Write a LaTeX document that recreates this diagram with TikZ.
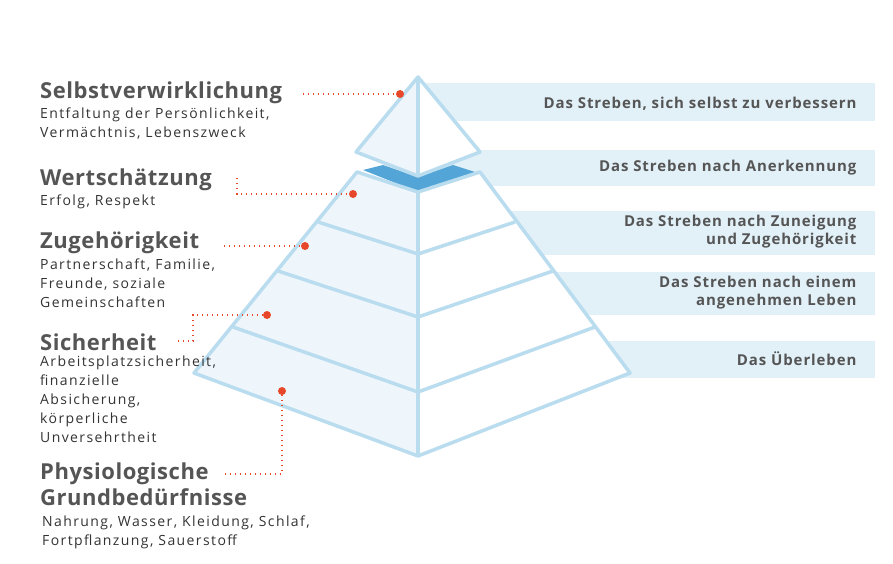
\documentclass[tikz,border=0pt]{standalone}
\usepackage{fontspec}
\setmainfont{Open Sans}
\newfontfamily\subfont[LetterSpace=10]{Open Sans}
\newfontfamily\bandfont[LetterSpace=6]{Open Sans}
\newfontfamily\ttlfont[LetterSpace=2.5]{Open Sans}
\begin{document}
\begin{tikzpicture}[x=1pt,y=-1pt,
  edge/.style={draw=pyr,line width=3.5pt,line join=round},
  band/.style={fill=bandc,draw=none},
  bandtxt/.style={anchor=east,align=right,font=\bandfont\fontsize{15}{18}\selectfont\bfseries,text=txt},
  ttl/.style={anchor=west,font=\ttlfont\fontsize{22}{26}\selectfont\bfseries,text=txt,inner sep=0},
  sub/.style={anchor=north west,align=left,font=\subfont\fontsize{14}{19}\selectfont,text=txt2,inner sep=0},
  dotl/.style={draw=redc,line width=1.4pt,dash pattern=on 1.4pt off 3.6pt},
  dot/.style={circle,fill=redc,inner sep=0,minimum size=8pt}]
\definecolor{pyr}{HTML}{B9DCEF}
\definecolor{bandc}{HTML}{E2F0F8}
\definecolor{lightf}{HTML}{EEF6FB}
\definecolor{dark}{HTML}{52A5D6}
\definecolor{txt}{HTML}{555555}
\definecolor{txt2}{HTML}{333333}
\definecolor{redc}{HTML}{E8482A}
\useasboundingbox (0,0) rectangle (893,564);
% bands
\fill[band] (418,83) rectangle (875,121);
\fill[band] (418,150) rectangle (875,186);
\fill[band] (418,211) rectangle (875,255);
\fill[band] (418,272) rectangle (875,315);
\fill[band] (418,341) rectangle (875,378);
\node[bandtxt] (b1) at (860,104) {Das Streben, sich selbst zu verbessern};
\node[bandtxt] (b2) at (860,168) {Das Streben nach Anerkennung};
\node[bandtxt] (b3) at (860,232) {Das Streben nach Zuneigung\\und Zugehörigkeit};
\node[bandtxt] (b4) at (860,293) {Das Streben nach einem\\angenehmen Leben};
\node[bandtxt] (b5) at (860,359) {Das Überleben};
% lower pyramid
\fill[lightf] (357,172) -- (418,192) -- (418,456) -- (194,373) -- cycle;
\fill[white] (480,172) -- (418,192) -- (418,456) -- (630,373) -- cycle;
\fill[dark] (363,170) -- (383,165) -- (418,177) -- (453,165) -- (475,172) -- (418,192) -- cycle;
\draw[edge] (357,172) -- (418,192) -- (480,172) -- (630,373) -- (418,456) -- (194,373) -- cycle;
\draw[edge] (418,192) -- (418,456);
\draw[edge] (318,222) -- (418,254) -- (515,222);
\draw[edge] (278,271) -- (418,317) -- (553,271);
\draw[edge] (233,327) -- (418,392) -- (595,327);
% top piece
\fill[lightf] (418,77) -- (356,152) -- (418,176) -- cycle;
\fill[white] (418,77) -- (480,152) -- (418,176) -- cycle;
\draw[edge] (418,77) -- (356,152) -- (418,176) -- (480,152) -- cycle;
\draw[edge] (418,77) -- (418,176);
% left texts
\node[ttl] (t1) at (40,93) {Selbstverwirklichung};
\node[sub] (s1) at (40,108) {Entfaltung der Persönlichkeit,\\Vermächtnis, Lebenszweck};
\node[ttl] (t2) at (40,180) {Wertschätzung};
\node[sub] (s2) at (40,195) {Erfolg, Respekt};
\node[ttl] (t3) at (40,243) {Zugehörigkeit};
\node[sub] (s3) at (40,259) {Partnerschaft, Familie,\\Freunde, soziale\\Gemeinschaften};
\node[ttl] (t4) at (40,342) {Sicherheit};
\node[sub] (s4) at (40,356) {Arbeitsplatzsicherheit,\\finanzielle\\Absicherung,\\körperliche\\Unversehrtheit};
\node[ttl,anchor=north west,align=left] (t5) at (40,463) {Physiologische\\Grundbedürfnisse};
\node[sub] (s5) at (42,516) {Nahrung, Wasser, Kleidung, Schlaf,\\Fortpflanzung, Sauerstoff};
% dots and leaders
\node[dot] (d1) at (400,94) {};
\node[dot] (d2) at (353,194) {};
\node[dot] (d3) at (305,246) {};
\node[dot] (d4) at (267,315) {};
\node[dot] (d5) at (282,391) {};
\coordinate (c1) at (303,94);
\coordinate (c2) at (237,178);
\coordinate (c3) at (224,246);
\coordinate (c4) at (178,341);
\coordinate (c5) at (225,474);
\draw[dotl] (c1) -- (d1);
\draw[dotl] (c2) |- (d2);
\draw[dotl] (c3) -- (d3);
\draw[dotl] (c4) -- (193,341) |- (d4);
\draw[dotl] (c5) -| (d5);
\end{tikzpicture}
\end{document}
